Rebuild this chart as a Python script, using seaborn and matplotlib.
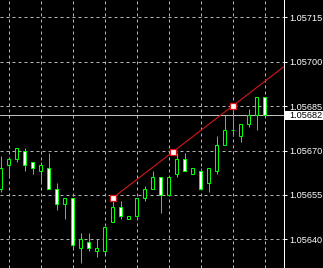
import numpy as np
import pandas as pd
import matplotlib
matplotlib.use("Agg")
import matplotlib.pyplot as plt
from matplotlib.ticker import FormatStrFormatter
from matplotlib.patches import Rectangle
import seaborn as sns

# ---- data ----
opens  = [1.05657, 1.05665, 1.05667, 1.05670, 1.05666, 1.05663, 1.05664, 1.05657, 1.05652, 1.05654,
          1.05637, 1.05639, 1.05636, 1.05636, 1.05646, 1.05651, 1.05647, 1.05648, 1.05654, 1.05657,
          1.05661, 1.05655, 1.05662, 1.05667, 1.05662, 1.05663, 1.05659, 1.05663, 1.05672, 1.05677,
          1.05675, 1.05679, 1.05682, 1.05688]
highs  = [1.05668, 1.05667, 1.05671, 1.05671, 1.05666, 1.05666, 1.05669, 1.05659, 1.05654, 1.05654,
          1.05642, 1.05642, 1.05640, 1.05644, 1.05654, 1.05653, 1.05648, 1.05654, 1.05658, 1.05663,
          1.05661, 1.05661, 1.05669, 1.05669, 1.05664, 1.05664, 1.05664, 1.05675, 1.05682, 1.05685,
          1.05679, 1.05684, 1.05688, 1.05688]
lows   = [1.05656, 1.05661, 1.05666, 1.05663, 1.05662, 1.05659, 1.05657, 1.05650, 1.05647, 1.05637,
          1.05632, 1.05636, 1.05634, 1.05635, 1.05646, 1.05647, 1.05647, 1.05647, 1.05653, 1.05657,
          1.05649, 1.05655, 1.05661, 1.05663, 1.05662, 1.05657, 1.05656, 1.05662, 1.05672, 1.05675,
          1.05673, 1.05678, 1.05677, 1.05682]
closes = [1.05664, 1.05667, 1.05671, 1.05665, 1.05664, 1.05665, 1.05657, 1.05652, 1.05654, 1.05638,
          1.05640, 1.05637, 1.05637, 1.05644, 1.05651, 1.05648, 1.05648, 1.05654, 1.05657, 1.05661,
          1.05655, 1.05661, 1.05667, 1.05663, 1.05664, 1.05657, 1.05664, 1.05672, 1.05677, 1.05677,
          1.05679, 1.05682, 1.05688, 1.05682]
bid_price = 1.05682
bid_label = "1.05682"
tick_values = [1.05640, 1.05655, 1.05670, 1.05685, 1.05700, 1.05715]
tick_labels = ["1.05640", "1.05655", "1.05670", "1.05685", "1.05700", "1.05715"]
trend_idx = [14, 21.5, 29]
trend_price = [1.056539, 1.056694, 1.056850]

df = pd.DataFrame({"o": opens, "h": highs, "l": lows, "c": closes})
df["i"] = np.arange(len(df))

sns.set_style("dark", {"axes.facecolor": "black", "figure.facecolor": "black"})
plt.rcParams["font.family"] = ["Liberation Sans", "DejaVu Sans"]

W, H = 323, 268
fig = plt.figure(figsize=(W / 100, H / 100), dpi=100)
ax = fig.add_axes([0, 0, 284 / W, 1])
ax.set_facecolor("black")

px = 0.72  # one pixel in points
green = "#00ff00"

xmin, xmax = -0.0625, 35.4375
ytop = 1.05715 + 17.3 / 2.96e5
ybot = 1.05715 - (268 - 17.3) / 2.96e5

# wicks
ax.vlines(df["i"], df["l"], df["h"], color=green, lw=px, zorder=3)
# bodies
bull = df["c"] >= df["o"]
bottoms = np.minimum(df["o"], df["c"])
heights = np.abs(df["c"] - df["o"])
ax.bar(df["i"], heights, bottom=bottoms, width=0.375,
       color=np.where(bull, "black", "white"), edgecolor=green, linewidth=px, zorder=4)

# bid line
ax.axhline(bid_price, color="#c0c0c0", lw=px, zorder=2)

# trend line (ray)
slope = (trend_price[-1] - trend_price[0]) / (trend_idx[-1] - trend_idx[0])
tx = [trend_idx[0], xmax]
ty = [trend_price[0], trend_price[0] + slope * (xmax - trend_idx[0])]
sns.lineplot(x=tx, y=ty, ax=ax, color="#d41818", lw=0.8, zorder=5)
sns.scatterplot(x=trend_idx, y=trend_price, ax=ax, marker="s", s=15, color="white",
                edgecolor="#d41818", linewidth=0.9, zorder=6)

ax.set_xlim(xmin, xmax)
ax.set_ylim(ybot, ytop)

ax.set_xticks(list(range(1, 34, 4)))
ax.tick_params(axis="x", length=0, labelbottom=False)
ax.yaxis.tick_right()
ax.set_yticks(tick_values)
ax.set_yticklabels(tick_labels)
ax.tick_params(axis="y", colors="white", length=3 * px, width=px, pad=2 * px,
               labelsize=6.6, labelcolor="white")
ax.grid(True, color="#b4b4b4", linestyle=(0, (3, 3)), lw=px)
ax.set_axisbelow(True)

for s in ["top", "left", "bottom"]:
    ax.spines[s].set_visible(False)
ax.spines["right"].set_visible(True)
ax.spines["right"].set_color("white")
ax.spines["right"].set_linewidth(px)

# bid label box
fig.patches.append(Rectangle((285 / W, (H - 120) / H), 38 / W, 9 / H,
                             transform=fig.transFigure, facecolor="white",
                             edgecolor="none", zorder=10))
fig.text(289 / W, (H - 115.5) / H, bid_label, color="black", fontsize=6.6,
         va="center", ha="left", zorder=11)

fig.savefig("out.png", dpi=100, facecolor="black")
